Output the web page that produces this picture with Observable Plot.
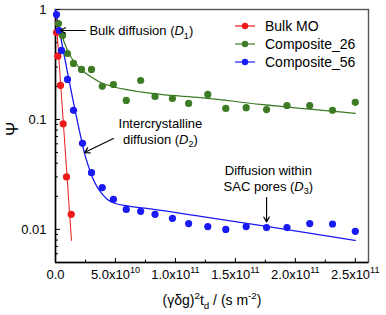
<!DOCTYPE html>
<html><head><meta charset="utf-8">
<script src="https://cdn.jsdelivr.net/npm/d3@7"></script>
<script src="https://cdn.jsdelivr.net/npm/@observablehq/plot@0.6"></script>
<style>
body{margin:0;background:#fff;}
#wrap{position:relative;width:386px;height:315px;font-family:"Liberation Sans",Arial,sans-serif;}
#legend{position:absolute;left:233px;top:17px;font-size:14px;color:#000;}
.row{display:flex;align-items:center;height:18px;}
.row svg{margin-right:8px;}
</style></head><body><div id="wrap"></div>
<script>
// ---- data ----
const seriesNames = ["Bulk MO", "Composite_26", "Composite_56"];
const seriesColors = ["#f01a1a", "#3d7b24", "#1a1af5"];

const bulkX = [8.3e8, 1.94e9, 4.17e9, 6.4e9, 9.2e9, 1.31e10];
const bulkY = [0.618, 0.376, 0.204, 0.0914, 0.0300, 0.0137];

const c26X = [2.5e9, 5.8e9, 1.0e10, 1.5e10, 2.17e10, 3.0e10, 3.9e10, 4.83e10, 5.9e10, 7.1e10, 8.3e10, 9.75e10, 1.11e11, 1.27e11, 1.42e11, 1.59e11, 1.76e11, 1.93e11, 2.12e11, 2.31e11, 2.5e11];
const c26Y = [0.746, 0.580, 0.398, 0.323, 0.285, 0.285, 0.200, 0.208, 0.149, 0.226, 0.162, 0.155, 0.140, 0.169, 0.126, 0.128, 0.123, 0.134, 0.134, 0.121, 0.143];

const c56X = [8.3e8, 2.9e9, 5.0e9, 1.0e10, 1.5e10, 2.25e10, 3.0e10, 3.9e10, 4.83e10, 5.9e10, 7.1e10, 8.3e10, 9.75e10, 1.11e11, 1.27e11, 1.42e11, 1.59e11, 1.76e11, 1.93e11, 2.12e11, 2.31e11, 2.5e11];
const c56Y = [0.90, 0.644, 0.424, 0.231, 0.121, 0.0606, 0.0328, 0.0240, 0.0188, 0.0152, 0.0146, 0.0137, 0.0126, 0.0113, 0.0106, 0.0100, 0.0106, 0.0104, 0.0104, 0.0113, 0.0112, 0.0096];

// fitted curves
const fitBulkX = [0, 1.333e10];
const fitBulkY = [1.0, 0.00794];
const fit26X = [1.67e9, 3.33e9, 5.83e9, 8.33e9, 1.08e10, 1.42e10, 1.83e10, 2.33e10, 2.92e10, 3.75e10, 4.75e10, 5.83e10, 7.08e10, 8.75e10, 1.21e11, 1.71e11, 2.5e11];
const fit26Y = [0.794, 0.672, 0.556, 0.471, 0.407, 0.351, 0.310, 0.273, 0.246, 0.217, 0.1995, 0.1874, 0.178, 0.1688, 0.158, 0.137, 0.1135];
const fit56X = [0, 2.08e10, 2.42e10, 2.75e10, 3.08e10, 3.5e10, 3.92e10, 4.33e10, 5.0e10, 6.0e10, 7.92e10, 1.21e11, 1.76e11, 2.5e11];
const fit56Y = [1.0, 0.0715, 0.0491, 0.0374, 0.0297, 0.0241, 0.0208, 0.01874, 0.0172, 0.01636, 0.01536, 0.01313, 0.01064, 0.00794];

// axes
const xMajor = [0, 5e10, 1e11, 1.5e11, 2e11, 2.5e11];
const xMajorLabels = ["0.0", "5.0x10^{10}", "1.0x10^{11}", "1.5x10^{11}", "2.0x10^{11}", "2.5x10^{11}"];
const xMinor = [2.5e10, 7.5e10, 1.25e11, 1.75e11, 2.25e11];
const yMajor = [0.01, 0.1, 1];
const yMajorLabels = ["0.01", "0.1", "1"];
const yMinor = [0.005, 0.006, 0.007, 0.008, 0.009, 0.02, 0.03, 0.04, 0.05, 0.06, 0.07, 0.08, 0.09, 0.2, 0.3, 0.4, 0.5, 0.6, 0.7, 0.8, 0.9];
const xTitle = "(γδg)^{2}t_{d} / (s m^{-2})";
const yTitle = "Ψ";

// annotations
const annoText = ["Bulk diffusion (*D*_{1})", "Intercrystalline", "diffusion (*D*_{2})", "Diffusion within", "SAC pores (*D*_{3})"];
const annoX = [2.83e10, 8.75e10, 8.75e10, 1.775e11, 1.775e11];
const annoY = [0.635, 0.092, 0.0657, 0.0344, 0.0246];
const annoAnchor = ["start", "middle", "middle", "middle", "middle"];
const arrowX1 = [2.5e10, 4.83e10, 1.76e11];
const arrowY1 = [0.644, 0.067, 0.0195];
const arrowX2 = [4.2e9, 2.42e10, 1.76e11];
const arrowY2 = [0.644, 0.05, 0.0117];

// ---- tables ----
const pts = [[bulkX, bulkY], [c26X, c26Y], [c56X, c56Y]].flatMap(([xs, ys], s) => xs.map((x, i) => ({series: seriesNames[s], x, y: ys[i]})));
const fits = [[fitBulkX, fitBulkY], [fit26X, fit26Y], [fit56X, fit56Y]].flatMap(([xs, ys], s) => xs.map((x, i) => ({series: seriesNames[s], x, y: ys[i]})));
const annos = annoText.map((t, i) => ({t, x: annoX[i], y: annoY[i], a: annoAnchor[i]}));
const arrows = arrowX1.map((x1, i) => ({x1, y1: arrowY1[i], x2: arrowX2[i], y2: arrowY2[i]}));

const fitWidth = {"Bulk MO": 1, "Composite_26": 1.2, "Composite_56": 1.3};

const plot = Plot.plot({
  width: 386, height: 315,
  marginLeft: 55, marginRight: 18, marginTop: 9, marginBottom: 53,
  style: {fontFamily: "'Liberation Sans', Arial, sans-serif", fontSize: "13px", color: "#000", background: "#fff", overflow: "visible"},
  x: {domain: [0, 2.61e11], label: null},
  y: {type: "log", domain: [0.005, 1], label: null},
  color: {domain: seriesNames, range: seriesColors},
  marks: [
    Plot.frame({stroke: "#555", strokeWidth: 1.4}),
    Plot.ruleX([0], {stroke: "#000", strokeWidth: 1.5}),
    Plot.ruleY([0.005], {stroke: "#000", strokeWidth: 1.5}),
    Plot.axisX({ticks: xMajor, tickSize: -4, tickPadding: 11, tickFormat: (d) => xMajorLabels[xMajor.indexOf(d)], label: null, fontSize: 13}),
    Plot.axisX({ticks: xMinor, tickSize: -2.5, fill: "none", label: null}),
    Plot.axisY({ticks: yMajor, tickSize: -5, tickPadding: 14, tickFormat: (d) => yMajorLabels[yMajor.indexOf(d)], label: null, fontSize: 13}),
    Plot.axisY({ticks: yMinor, tickSize: -3, fill: "none", label: null}),
    ...seriesNames.map(s => Plot.line(fits.filter(d => d.series === s), {x: "x", y: "y", stroke: "series", strokeWidth: fitWidth[s], curve: "monotone-x"})),
    Plot.dot(pts, {x: "x", y: "y", fill: "series", r: 3.6}),
    Plot.text(annos.filter(d => d.a === "start"), {x: "x", y: "y", text: "t", textAnchor: "start", fontSize: 13, lineAnchor: "middle", fill: "#000"}),
    Plot.text(annos.filter(d => d.a === "middle"), {x: "x", y: "y", text: "t", textAnchor: "middle", fontSize: 13, lineAnchor: "middle", fill: "#000"}),
    Plot.arrow(arrows, {x1: "x1", y1: "y1", x2: "x2", y2: "y2", stroke: "#000", strokeWidth: 1.2, headLength: 7}),
    Plot.text([xTitle], {text: (d) => d, frameAnchor: "bottom", dy: 38, lineAnchor: "middle", fontSize: 14, fill: "#000"}),
    Plot.text([yTitle], {text: (d) => d, frameAnchor: "left", dx: -43, rotate: -90, lineAnchor: "middle", fontSize: 17, fill: "#000"})
  ]
});

// rich text: ^{sup}, _{sub}, *italic*
function richify(svg) {
  svg.querySelectorAll("text").forEach(t => {
    const targets = t.querySelector("tspan") ? Array.from(t.querySelectorAll("tspan")) : [t];
    targets.forEach(el => {
      const s = el.textContent;
      if (!/[\^_]\{|\*/.test(s)) return;
      const fs = parseFloat(getComputedStyle(el).fontSize) || 13;
      el.textContent = "";
      const re = /(\^\{[^}]*\}|_\{[^}]*\}|\*[^*]*\*)/g;
      let last = 0, m, shift = 0;
      const ns = "http://www.w3.org/2000/svg";
      const add = (txt, kind) => {
        const sp = document.createElementNS(ns, "tspan");
        sp.textContent = txt;
        let target = 0;
        if (kind === "sup") { target = -0.42 * fs; sp.setAttribute("font-size", (0.7 * fs).toFixed(1)); }
        else if (kind === "sub") { target = 0.28 * fs; sp.setAttribute("font-size", (0.7 * fs).toFixed(1)); }
        else if (kind === "it") { sp.setAttribute("font-style", "italic"); }
        if (target !== shift) { sp.setAttribute("dy", (target - shift).toFixed(2)); shift = target; }
        el.appendChild(sp);
      };
      while ((m = re.exec(s))) {
        if (m.index > last) add(s.slice(last, m.index), "n");
        const tok = m[0];
        if (tok[0] === "^") add(tok.slice(2, -1), "sup");
        else if (tok[0] === "_") add(tok.slice(2, -1), "sub");
        else add(tok.slice(1, -1), "it");
        last = m.index + tok.length;
      }
      if (last < s.length) add(s.slice(last), "n");
    });
  });
}

const wrap = document.getElementById("wrap");
wrap.appendChild(plot);
richify(plot);

// legend (inside plot area, top right)
const legend = document.createElement("div");
legend.id = "legend";
seriesNames.forEach((name, i) => {
  const row = document.createElement("div");
  row.className = "row";
  row.innerHTML = `<svg width="24" height="18"><line x1="2" x2="22" y1="9" y2="9" stroke="${seriesColors[i]}" stroke-width="1.2"/><circle cx="12" cy="9" r="3.2" fill="${seriesColors[i]}"/></svg><span>${name}</span>`;
  legend.appendChild(row);
});
wrap.appendChild(legend);
</script>
</body></html>
